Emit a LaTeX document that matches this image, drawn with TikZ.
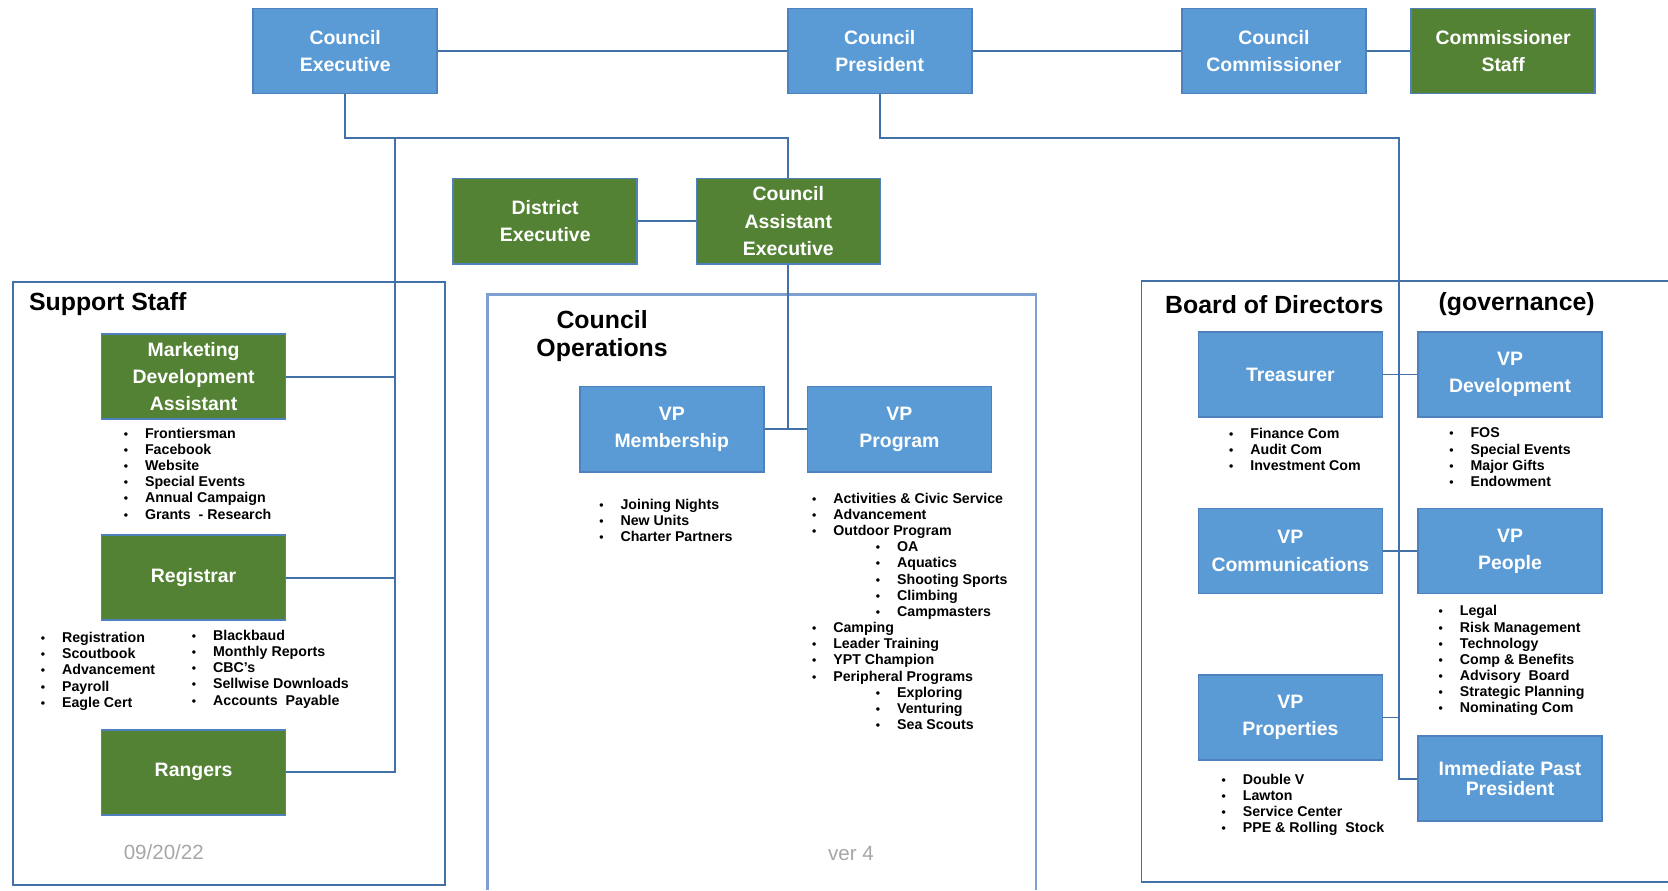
\documentclass[tikz,border=0pt]{standalone}
\usepackage{fontspec}
\setmainfont{Liberation Sans}
\definecolor{boxblue}{RGB}{91,155,213}
\definecolor{boxgreen}{RGB}{84,130,53}
\definecolor{boxline}{RGB}{79,129,189}
\definecolor{linkblue}{RGB}{65,113,167}
\definecolor{framelight}{RGB}{125,160,208}
\newcommand{\bdot}{{\fontsize{6.5}{6.5}\selectfont\textbullet}}
\newcommand{\bitem}[1]{\makebox[0.4cm][l]{\bdot}#1}
\newcommand{\sitem}[1]{\hspace*{1.2cm}\makebox[0.4cm][l]{\bdot}#1}
\begin{document}
\begin{tikzpicture}[x=0.02cm,y=-0.02cm,
  unitbox/.style={draw=boxline,line width=0.8pt,minimum width=3.46cm,minimum height=1.6cm,inner sep=0pt,text=white,align=center,font=\fontsize{10.4}{14.6}\selectfont\bfseries},
  bluebox/.style={unitbox,fill=boxblue},
  greenbox/.style={unitbox,fill=boxgreen},
  linkline/.style={draw=linkblue,line width=1pt},
  panel/.style={draw=linkblue,line width=0.9pt},
  heading/.style={font=\fontsize{13.3}{14.8}\selectfont\bfseries,inner sep=0pt},
  duties/.style={anchor=north west,inner sep=0pt,align=left,font=\fontsize{7.6}{8.65}\selectfont\bfseries},
  stamp/.style={text=gray!70,inner sep=0pt,font=\fontsize{11}{12}\selectfont}]
\useasboundingbox (0,0) rectangle (1568,837);
% panels
\draw[panel] (12,265) rectangle (418,832);
\draw[panel,draw=framelight,line width=1.4pt] (458,837) -- (458,277) -- (974,277) -- (974,837);
\draw[panel] (1568,264) -- (1073,264) -- (1073,829) -- (1568,829);
% top row
\node[bluebox] (ce) at (324.5,48) {Council\\Executive};
\node[bluebox] (cp) at (827,48) {Council\\President};
\node[bluebox] (cc) at (1197.5,48) {Council\\Commissioner};
\node[greenbox] (cs) at (1413,48) {Commissioner\\Staff};
\node[greenbox] (de) at (512.5,208) {District\\Executive};
\node[greenbox] (cae) at (741,208) {Council\\Assistant\\Executive};
% support staff
\node[heading,anchor=west] (sshead) at (27,286) {Support Staff};
\node[greenbox] (mda) at (182,354) {Marketing\\Development\\Assistant};
\node[greenbox] (reg) at (182,543) {Registrar};
\node[greenbox] (rng) at (182,726) {Rangers};
\node[duties] (mdalist) at (116,402) {\bitem{Frontiersman}\\\bitem{Facebook}\\\bitem{Website}\\\bitem{Special Events}\\\bitem{Annual Campaign}\\\bitem{Grants\ \ - Research}};
\node[duties] (reglistl) at (38,594) {\bitem{Registration}\\\bitem{Scoutbook}\\\bitem{Advancement}\\\bitem{Payroll}\\\bitem{Eagle Cert}};
\node[duties] (reglistr) at (180,592) {\bitem{Blackbaud}\\\bitem{Monthly Reports}\\\bitem{CBC's}\\\bitem{Sellwise Downloads}\\\bitem{Accounts\ \ Payable}};
\node[stamp] (date) at (154,801) {09/20/22};
% council operations
\node[heading,align=center] (cohead) at (566,316) {Council\\Operations};
\node[bluebox] (vpm) at (631.5,403.5) {VP\\Membership};
\node[bluebox] (vpp) at (845.5,403.5) {VP\\Program};
\node[duties] (vpmlist) at (563,469) {\bitem{Joining Nights}\\\bitem{New Units}\\\bitem{Charter Partners}};
\node[duties] (vpplist) at (763,463) {\bitem{Activities \& Civic Service}\\\bitem{Advancement}\\\bitem{Outdoor Program}\\\sitem{OA}\\\sitem{Aquatics}\\\sitem{Shooting Sports}\\\sitem{Climbing}\\\sitem{Campmasters}\\\bitem{Camping}\\\bitem{Leader Training}\\\bitem{YPT Champion}\\\bitem{Peripheral Programs}\\\sitem{Exploring}\\\sitem{Venturing}\\\sitem{Sea Scouts}};
\node[stamp] (ver) at (800,802) {ver 4};
% board of directors
\node[heading,anchor=west] (bdhead) at (1095,286) {Board of Directors};
\node[heading,anchor=west] (govhead) at (1352,286) {(governance)};
\node[bluebox] (tre) at (1213,352) {Treasurer};
\node[bluebox] (vpd) at (1419.5,352) {VP\\Development};
\node[bluebox] (vpc) at (1213,518) {VP\\Communications};
\node[bluebox] (vppe) at (1419.5,518) {VP\\People};
\node[bluebox] (vpr) at (1213,674.5) {VP\\Properties};
\node[bluebox,font=\fontsize{10.4}{10.8}\selectfont\bfseries] (ipp) at (1419.5,732) {Immediate Past\\President};
\node[duties] (trelist) at (1155,402) {\bitem{Finance Com}\\\bitem{Audit Com}\\\bitem{Investment Com}};
\node[duties] (vpdlist) at (1362,402) {\bitem{FOS}\\\bitem{Special Events}\\\bitem{Major Gifts}\\\bitem{Endowment}};
\node[duties] (vppelist) at (1352,569) {\bitem{Legal}\\\bitem{Risk Management}\\\bitem{Technology}\\\bitem{Comp \& Benefits}\\\bitem{Advisory\ \ Board}\\\bitem{Strategic Planning}\\\bitem{Nominating Com}};
\node[duties] (vprlist) at (1148,727) {\bitem{Double V}\\\bitem{Lawton}\\\bitem{Service Center}\\\bitem{PPE \& Rolling\ \ Stock}};
% connectors
\coordinate (sst) at (371,130);
\coordinate (bdt) at (1315,130);
\draw[linkline] (ce.east) -- (cp.west);
\draw[linkline] (cp.east) -- (cc.west);
\draw[linkline] (cc.east) -- (cs.west);
\draw[linkline] (de.east) -- (cae.west);
\draw[linkline] (ce.south) |- (sst) -| (cae.north);
\draw[linkline] (sst) |- (rng.east);
\draw[linkline] (mda.east) -- (mda.east -| sst);
\draw[linkline] (reg.east) -- (reg.east -| sst);
\draw[linkline] (cae.south) -- (cae.south |- vpm.east);
\draw[linkline] (vpm.east) -- (vpp.west);
\draw[linkline] (cp.south) |- (bdt) |- (ipp.west);
\draw[linkline] (tre.east) -- (vpd.west);
\draw[linkline] (vpc.east) -- (vppe.west);
\draw[linkline] (vpr.east) -- (vpr.east -| bdt);
\end{tikzpicture}
\end{document}
